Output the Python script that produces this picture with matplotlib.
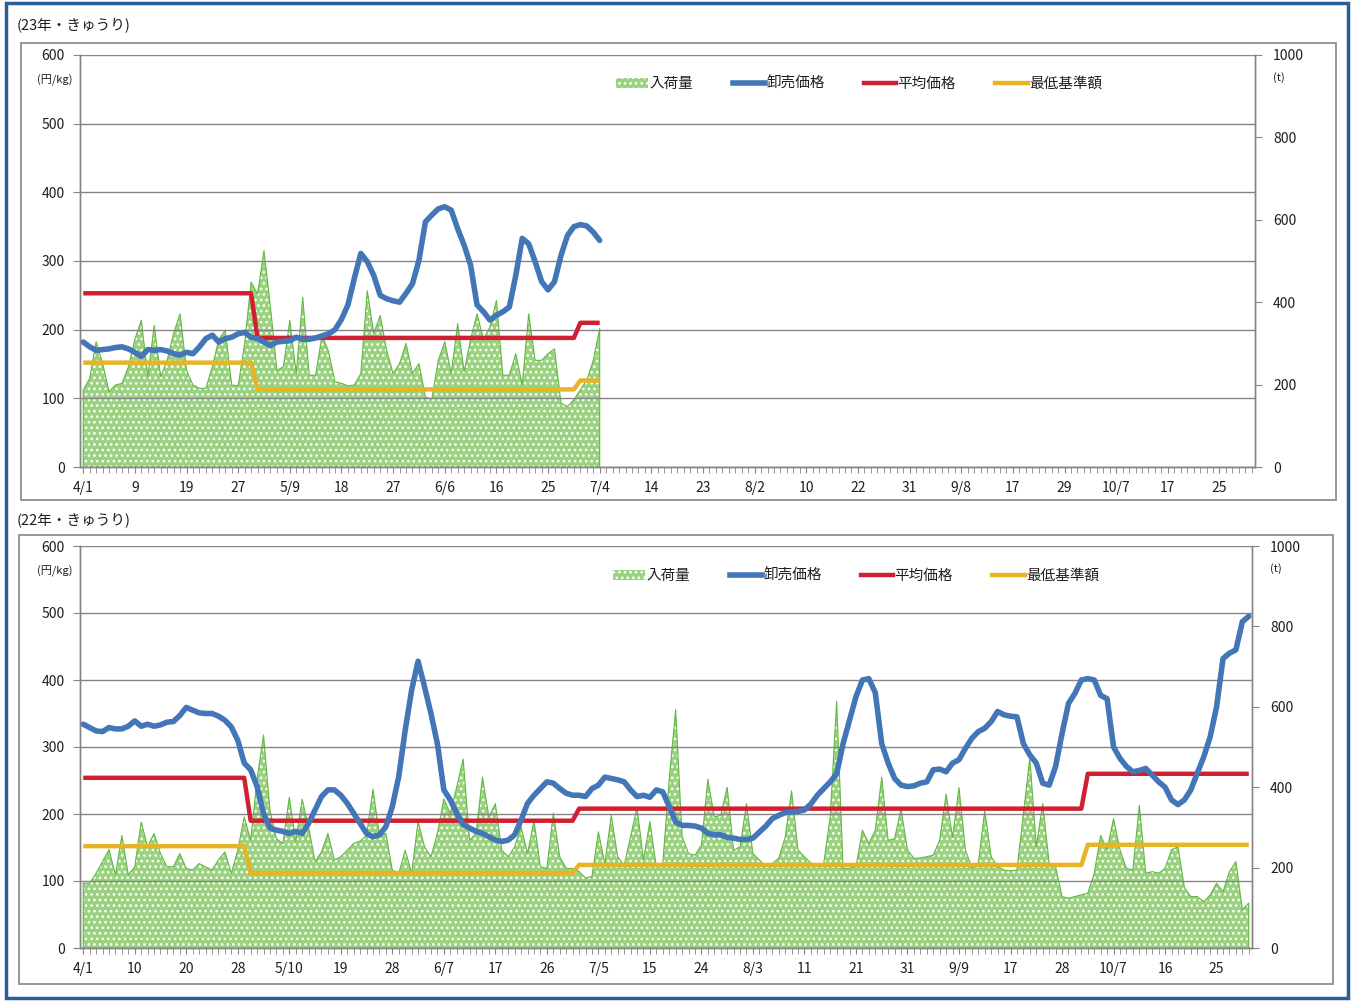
import numpy as np
import matplotlib.pyplot as plt
from matplotlib.patches import Patch, Rectangle
from matplotlib.lines import Line2D

plt.rcParams['font.family'] = ['Noto Sans CJK JP', 'DejaVu Sans']
plt.rcParams['hatch.linewidth'] = 1.1

W, H = 1360, 1001

# ---- 23年 (data up to 7/4) ----
labels_23 = ['4/1', '9', '19', '27', '5/9', '18', '27', '6/6', '16', '25', '7/4',
             '14', '23', '8/2', '10', '22', '31', '9/8', '17', '29', '10/7', '17', '25']
vol_23 = [187, 215, 304, 251, 183, 199, 203, 243, 310, 356,
          219, 344, 219, 259, 324, 372, 235, 199, 191, 191,
          243, 310, 332, 199, 197, 300, 449, 420, 525, 388,
          235, 243, 356, 227, 412, 223, 223, 320, 280, 207,
          203, 197, 199, 227, 428, 324, 368, 283, 227, 251,
          300, 227, 251, 170, 165, 259, 304, 227, 348, 231,
          310, 372, 310, 340, 404, 223, 223, 275, 199, 372,
          259, 259, 275, 287, 155, 147, 163, 187, 211, 259,
          336]
whole_23 = [182, 175, 170, 171, 172, 174, 175, 172, 167, 161,
            171, 170, 171, 169, 165, 163, 167, 165, 175, 187,
            192, 182, 187, 189, 194, 196, 189, 187, 182, 177,
            182, 183, 184, 189, 186, 186, 188, 191, 194, 200,
            215, 236, 275, 311, 299, 279, 250, 245, 242, 240,
            253, 267, 301, 357, 367, 376, 379, 374, 347, 323,
            294, 236, 226, 214, 221, 226, 233, 279, 333, 325,
            299, 270, 258, 270, 308, 337, 350, 353, 351, 342,
            330]
avg_23_levels = [253, 188, 210]
avg_23_runs = [27, 50, 4]
min_23_levels = [152, 113, 126]
min_23_runs = [27, 50, 4]

# ---- 22年 (4/1 - 10/31) ----
labels_22 = ['4/1', '10', '20', '28', '5/10', '19', '28', '6/7', '17', '26', '7/5',
             '15', '24', '8/3', '11', '21', '31', '9/9', '17', '28', '10/7', '16', '25']
vol_22 = [161, 161, 186, 215, 245, 182, 280, 182, 202, 313,
          252, 285, 235, 202, 202, 235, 198, 194, 210, 202,
          194, 219, 239, 186, 243, 326, 268, 420, 530, 342,
          272, 260, 375, 264, 370, 300, 215, 239, 285, 219,
          227, 243, 260, 266, 280, 395, 280, 285, 194, 186,
          243, 186, 315, 252, 227, 285, 371, 334, 400, 470,
          268, 285, 425, 326, 359, 243, 227, 252, 301, 235,
          317, 202, 198, 335, 227, 198, 198, 190, 174, 178,
          289, 210, 330, 227, 206, 277, 350, 219, 315, 202,
          210, 420, 593, 277, 235, 231, 256, 420, 326, 330,
          400, 243, 252, 359, 235, 219, 202, 210, 223, 275,
          391, 244, 227, 211, 206, 211, 326, 614, 198, 198,
          202, 293, 260, 293, 425, 268, 272, 346, 244, 223,
          224, 227, 231, 268, 383, 275, 399, 244, 198, 211,
          342, 227, 202, 194, 192, 194, 334, 474, 252, 359,
          211, 202, 128, 124, 128, 132, 136, 186, 280, 244,
          322, 244, 198, 194, 355, 186, 190, 186, 198, 244,
          252, 150, 128, 128, 115, 132, 161, 140, 190, 215,
          95, 112]
whole_22 = [334, 329, 324, 323, 329, 327, 327, 331, 339, 331,
            334, 331, 333, 337, 338, 347, 359, 355, 351, 350,
            350, 346, 340, 330, 310, 276, 266, 241, 201, 179,
            176, 174, 171, 174, 171, 186, 206, 226, 236, 236,
            228, 216, 201, 186, 171, 166, 169, 181, 211, 256,
            325, 385, 428, 390, 350, 305, 236, 221, 201, 184,
            179, 174, 171, 166, 161, 159, 161, 169, 191, 216,
            228, 238, 248, 246, 238, 231, 228, 228, 226, 238,
            243, 255, 253, 251, 248, 236, 226, 228, 225, 236,
            233, 211, 188, 183, 183, 182, 179, 171, 169, 169,
            165, 164, 162, 162, 164, 173, 182, 193, 198, 202,
            203, 204, 206, 215, 228, 238, 248, 260, 305, 340,
            375, 400, 402, 381, 305, 276, 253, 243, 241, 242,
            246, 248, 266, 267, 263, 276, 281, 298, 313, 323,
            328, 338, 353, 348, 346, 345, 305, 288, 276, 246,
            243, 271, 320, 365, 380, 400, 402, 400, 377, 372,
            300, 283, 271, 263, 265, 268, 258, 248, 240, 221,
            214, 221, 236, 261, 285, 315, 360, 432, 440, 445,
            487, 495]
avg_22_levels = [254, 190, 208, 260]
avg_22_runs = [26, 51, 79, 26]
min_22_levels = [152, 112, 124, 154]
min_22_runs = [26, 51, 79, 26]

n_slots = 182
legend_names = ['入荷量', '卸売価格', '平均価格', '最低基準額']

GREEN = '#9ad27f'
GREEN_EDGE = '#62b844'
BLUE = '#4276b6'
RED = '#cf1f30'
YELLOW = '#e6b425'
GRID = '#858585'
TXT = '#1e1e1e'

fig = plt.figure(figsize=(W / 100, H / 100), dpi=100)


def fx(x):
    return x / W


def fy(y):
    return 1 - y / H


def draw_panel(ax_px, box_px, title, title_px, labels, vol, whole, avg, low, leg_px):
    l, t, r, b = ax_px
    ax = fig.add_axes([fx(l), fy(b), fx(r - l), (b - t) / H])
    ax2 = ax.twinx()
    ax.set_zorder(ax2.get_zorder() + 1)
    ax.patch.set_visible(False)

    x = np.arange(len(vol))
    ax2.fill_between(x, vol, 0, facecolor=GREEN, edgecolor='white',
                     hatch='...', linewidth=0)
    ax2.plot(np.r_[0, x, x[-1]], np.r_[0, vol, 0], color=GREEN_EDGE, lw=0.8)

    xp = np.arange(len(whole))
    ax.plot(xp, low, color=YELLOW, lw=3.2, solid_capstyle='butt')
    ax.plot(xp, avg, color=RED, lw=3.2, solid_capstyle='butt')
    ax.plot(xp, whole, color=BLUE, lw=4.0, solid_capstyle='round')

    ax.set_xlim(-0.5, n_slots - 0.5)
    ax.set_ylim(0, 600)
    ax2.set_ylim(0, 1000)
    ax.set_yticks(range(0, 601, 100))
    ax2.set_yticks(range(0, 1001, 200))
    ax.set_xticks(np.arange(0, n_slots, 8))
    ax.set_xticklabels(labels)
    ax.set_xticks(np.arange(n_slots), minor=True)
    ax.yaxis.grid(True, color=GRID, lw=1.0)
    ax.set_axisbelow(True)

    for a in (ax, ax2):
        for s in a.spines.values():
            s.set_color(GRID)
            s.set_linewidth(1.0)
        a.spines['top'].set_visible(False)
    ax.tick_params(axis='x', which='both', length=4, color=GRID, pad=6,
                   labelsize=10, labelcolor=TXT)
    ax.tick_params(axis='y', length=5, color=GRID, pad=6, labelsize=10,
                   labelcolor=TXT)
    ax2.tick_params(axis='y', length=5, color=GRID, pad=8, labelsize=10,
                    labelcolor=TXT)

    bl, bt, br, bb = box_px
    fig.patches.append(Rectangle((fx(bl), fy(bb)), fx(br - bl), (bb - bt) / H,
                                 transform=fig.transFigure, fill=False,
                                 edgecolor='#8f8f8f', lw=1.3))
    fig.text(fx(title_px[0]), fy(title_px[1]), title, fontsize=10.5,
             color=TXT, va='center', ha='left')
    fig.text(fx(55), fy(t + 25), '(円/kg)', fontsize=8, color=TXT,
             va='center', ha='center')
    fig.text(fx(r + 24), fy(t + 23), '(t)', fontsize=8, color=TXT,
             va='center', ha='center')

    handles = [Patch(facecolor=GREEN, edgecolor='white', hatch='...', lw=0),
               Line2D([], [], color=BLUE, lw=4.0),
               Line2D([], [], color=RED, lw=3.2),
               Line2D([], [], color=YELLOW, lw=3.2)]
    ax.legend(handles, legend_names, loc='center',
              bbox_to_anchor=(fx(leg_px[0]), fy(leg_px[1])),
              bbox_transform=fig.transFigure, ncol=4, frameon=False,
              fontsize=10.5, handlelength=2.2, handleheight=0.6,
              columnspacing=2.7, handletextpad=0.1)
    for txt in ax.get_legend().get_texts():
        txt.set_color(TXT)
    return ax


draw_panel((80, 55, 1255, 467), (21, 43, 1336, 500), '(23年・きゅうり)', (17, 25),
           labels_23, vol_23, whole_23,
           np.repeat(avg_23_levels, avg_23_runs),
           np.repeat(min_23_levels, min_23_runs), (859, 84))

draw_panel((80, 546, 1252, 948), (19, 535, 1333, 984), '(22年・きゅうり)', (17, 520),
           labels_22, vol_22, whole_22,
           np.repeat(avg_22_levels, avg_22_runs),
           np.repeat(min_22_levels, min_22_runs), (856, 576))

# page border of the scan
fig.patches.append(Rectangle((fx(6), fy(998)), fx(1342), 995 / H,
                             transform=fig.transFigure, fill=False,
                             edgecolor='#2b5d9c', lw=2.5))

fig.savefig('out.png', dpi=100)
